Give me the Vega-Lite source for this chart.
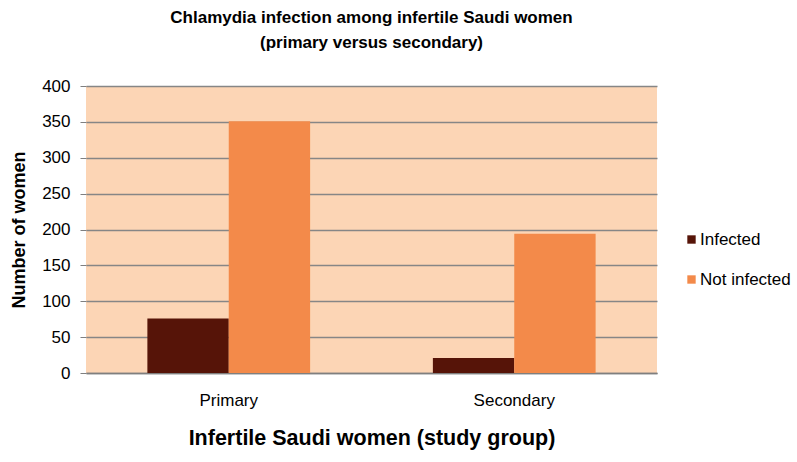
{
  "$schema": "https://vega.github.io/schema/vega-lite/v6.json",
  "width": 571,
  "height": 287,
  "autosize": {"type": "none"},
  "padding": {"left": 86, "top": 86, "right": 140, "bottom": 89},
  "background": "white",
  "config": {
    "font": "Liberation Sans",
    "view": {"fill": "#FCD5B5", "stroke": null}
  },
  "title": {
    "text": ["Chlamydia infection among infertile Saudi women", "(primary versus secondary)"],
    "font": "Liberation Sans",
    "fontSize": 17,
    "fontWeight": "bold",
    "color": "#000000",
    "anchor": "middle",
    "offset": 25,
    "lineHeight": 25
  },
  "data": {
    "values": [
      {"group": "Primary", "status": "Infected", "count": 76},
      {"group": "Primary", "status": "Not infected", "count": 351},
      {"group": "Secondary", "status": "Infected", "count": 21},
      {"group": "Secondary", "status": "Not infected", "count": 194}
    ]
  },
  "mark": {"type": "bar"},
  "encoding": {
    "x": {
      "field": "group",
      "type": "nominal",
      "sort": ["Primary", "Secondary"],
      "scale": {"paddingInner": 0.43, "paddingOuter": 0.215},
      "axis": {
        "title": "Infertile Saudi women (study group)",
        "titleFontSize": 21.5,
        "titleFontWeight": "bold",
        "titleColor": "#000000",
        "titlePadding": 19,
        "labelAngle": 0,
        "labelFontSize": 17,
        "labelColor": "#000000",
        "labelPadding": 19,
        "ticks": false,
        "domainColor": "#7f7f7f",
        "domainWidth": 1.5
      }
    },
    "xOffset": {"field": "status", "type": "nominal", "sort": ["Infected", "Not infected"], "scale": {"paddingInner": 0, "paddingOuter": 0}},
    "y": {
      "field": "count",
      "type": "quantitative",
      "scale": {"domain": [0, 400], "nice": false},
      "axis": {
        "title": "Number of women",
        "titleFontSize": 18,
        "titleFontWeight": "bold",
        "titleColor": "#000000",
        "titlePadding": 13,
        "values": [0, 50, 100, 150, 200, 250, 300, 350, 400],
        "labelFontSize": 17,
        "labelColor": "#000000",
        "labelPadding": 10,
        "tickSize": 6,
        "tickColor": "#7f7f7f",
        "domain": false,
        "grid": true,
        "gridColor": "#868686",
        "gridWidth": 1.5,
        "gridOpacity": 1
      }
    },
    "color": {
      "field": "status",
      "type": "nominal",
      "sort": ["Infected", "Not infected"],
      "scale": {"domain": ["Infected", "Not infected"], "range": ["#561408", "#F38A4A"]},
      "legend": {
        "title": null,
        "orient": "none",
        "legendX": 597,
        "legendY": 145,
        "symbolType": "square",
        "symbolSize": 70,
        "symbolStrokeWidth": 0,
        "labelFontSize": 17,
        "labelColor": "#000000",
        "labelOffset": 0,
        "rowPadding": 22
      }
    }
  }
}
